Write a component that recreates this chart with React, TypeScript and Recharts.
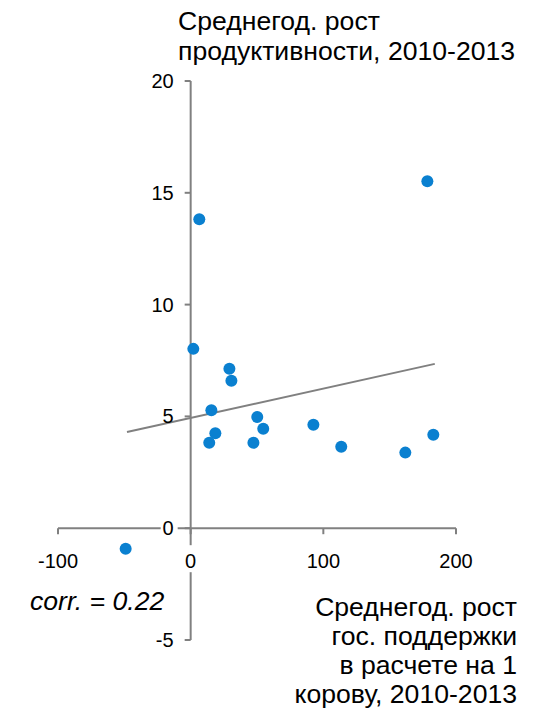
import React from 'react';
import { ScatterChart, Scatter, XAxis, YAxis, ReferenceLine, ReferenceDot } from 'recharts';

// growth of state support per cow vs. productivity growth, 2010-2013
const supportGrowth = [-49, 6.5, 178.4, 2.0, 29.2, 30.7, 15.6, 50.2, 18.6, 54.7, 14.0, 47.3, 92.5, 113.5, 161.8, 182.9];
const productivityGrowth = [-0.92, 13.82, 15.52, 8.02, 7.13, 6.59, 5.27, 4.97, 4.25, 4.45, 3.82, 3.82, 4.63, 3.64, 3.38, 4.18];

const trendX = [-48, 184];
const trendY = [4.3, 7.35];

const xTicks = [-100, 0, 100, 200];
const yTicks = [-5, 0, 5, 10, 15, 20];

const AXIS = '#808080';
const DOT = '#0a80d0';
const FONT = '"Liberation Sans", Arial, sans-serif';

const points = supportGrowth.map((x, i) => ({ x, y: productivityGrowth[i] }));

const XTick = (label: string) => (props: any) => {
  const { cx, cy } = props;
  return (
    <g>
      <line x1={cx} y1={cy} x2={cx} y2={cy + 6} stroke={AXIS} strokeWidth={2} />
      {label === '0' && <rect x={cx - 8} y={cy + 17} width={16} height={27} fill="#fff" />}
      <text x={cx} y={cy + 33} textAnchor="middle" dominantBaseline="central" fontSize={20} fontFamily={FONT} fill="#000">
        {label}
      </text>
    </g>
  );
};

const YTick = (label: string) => (props: any) => {
  const { cx, cy } = props;
  return (
    <g>
      <line x1={cx - 6} y1={cy} x2={cx} y2={cy} stroke={AXIS} strokeWidth={2} />
      {label === '0' && <rect x={cx - 30} y={cy - 10} width={17} height={20} fill="#fff" />}
      <text x={cx - 17} y={cy} textAnchor="end" dominantBaseline="central" fontSize={20} fontFamily={FONT} fill="#000">
        {label}
      </text>
    </g>
  );
};

const Dot = (props: any) => <circle cx={props.cx} cy={props.cy} r={6} fill={DOT} />;

export default function App() {
  return (
    <div style={{ position: 'absolute', left: 0, top: 0, width: 540, height: 714, background: '#fff', fontFamily: FONT }}>
      <ScatterChart width={540} height={714} margin={{ top: 81, right: 84, bottom: 74, left: 58 }}>
        <XAxis type="number" dataKey="x" domain={[-100, 200]} hide />
        <YAxis type="number" dataKey="y" domain={[-5, 20]} hide />
        <ReferenceLine y={0} stroke={AXIS} strokeWidth={2} />
        <ReferenceLine x={0} stroke={AXIS} strokeWidth={2} />
        <ReferenceLine
          segment={[{ x: trendX[0], y: trendY[0] }, { x: trendX[1], y: trendY[1] }]}
          stroke={AXIS}
          strokeWidth={2}
        />
        {xTicks.map((t) => (
          <ReferenceDot key={'x' + t} x={t} y={0} r={0} shape={XTick(String(t))} />
        ))}
        {yTicks.map((t) => (
          <ReferenceDot key={'y' + t} x={0} y={t} r={0} shape={YTick(String(t))} />
        ))}
        <Scatter data={points} shape={Dot} isAnimationActive={false} />
      </ScatterChart>

      <div style={{ position: 'absolute', left: 178, top: 6, fontSize: 26.6, lineHeight: '30px', color: '#000', whiteSpace: 'nowrap' }}>
        Среднегод. рост
        <br />
        продуктивности, 2010-2013
      </div>
      <div style={{ position: 'absolute', left: 30, top: 586, fontSize: 26.6, lineHeight: '30px', fontStyle: 'italic', color: '#000', whiteSpace: 'nowrap' }}>
        corr. = 0.22
      </div>
      <div style={{ position: 'absolute', right: 23, top: 593, fontSize: 26.6, lineHeight: '29px', textAlign: 'right', color: '#000', whiteSpace: 'nowrap' }}>
        Среднегод. рост
        <br />
        гос. поддержки
        <br />
        в расчете на 1
        <br />
        корову, 2010-2013
      </div>
    </div>
  );
}
